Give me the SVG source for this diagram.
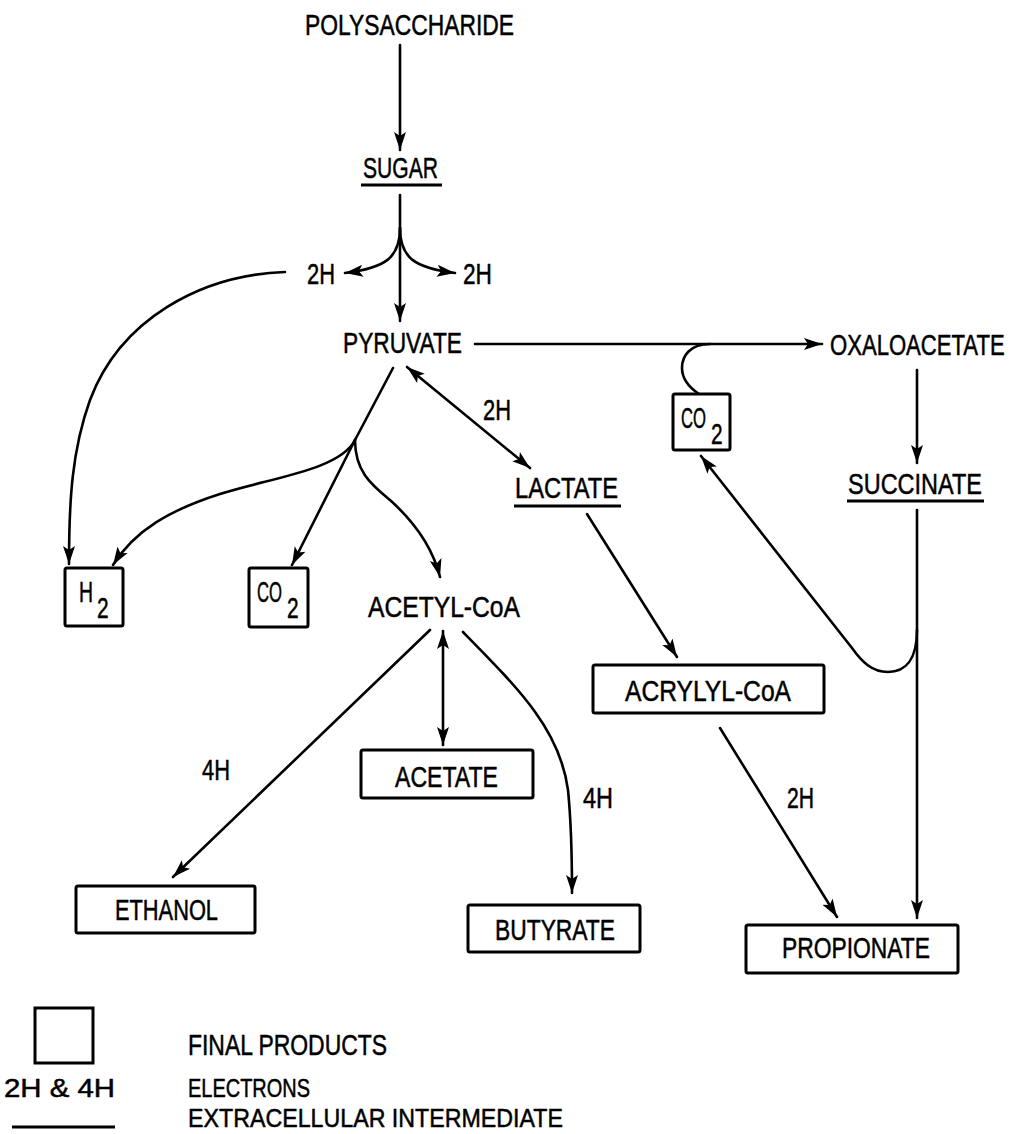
<svg xmlns="http://www.w3.org/2000/svg" width="1014" height="1134" viewBox="0 0 1014 1134">
<defs>
<marker id="ah" markerUnits="userSpaceOnUse" markerWidth="20" markerHeight="14" refX="18" refY="7" orient="auto-start-reverse" viewBox="0 0 20 14">
<path d="M0,1 L18,7 L0,13 L4,7 Z" fill="#000"/>
</marker>
<style>
text{font-family:"Liberation Sans","DejaVu Sans",sans-serif;font-size:29px;fill:#000;stroke:#000;stroke-width:0.5}
text.lg{font-size:26px}
.ln{fill:none;stroke:#000;stroke-width:2.6;stroke-linecap:round}
.box{fill:#fff;stroke:#000;stroke-width:3}
.ul{stroke:#000;stroke-width:3}
</style>
</defs>
<rect width="1014" height="1134" fill="#fff"/>
<g id="connectors">
<path class="ln" d="M400,45 L400,150" marker-end="url(#ah)"/>
<path class="ln" d="M400,195 L400,321" marker-end="url(#ah)"/>
<path class="ln" d="M400,228 C400,258 385,268 345,273" marker-end="url(#ah)"/>
<path class="ln" d="M400,228 C400,258 415,268 455,273" marker-end="url(#ah)"/>
<path class="ln" d="M285,272 C200,275 120,320 90,400 C72,450 69,500 69,564" marker-end="url(#ah)"/>
<path class="ln" d="M393,368 L355,440"/>
<path class="ln" d="M355,440 C340,470 270,478 220,494 C170,510 135,530 113,565" marker-end="url(#ah)"/>
<path class="ln" d="M355,440 L292,565" marker-end="url(#ah)"/>
<path class="ln" d="M355,440 C355,472 372,485 390,500 C410,518 432,545 440,577" marker-end="url(#ah)"/>
<path class="ln" d="M475,344 L822,344" marker-end="url(#ah)"/>
<path class="ln" d="M710,344 C690,344 682,356 682,368 C682,380 690,388 699,394"/>
<path class="ln" d="M917,370 L917,463" marker-end="url(#ah)"/>
<path class="ln" d="M917,510 L917,918" marker-end="url(#ah)"/>
<path class="ln" d="M917,630 C917,660 905,672 888,672 C872,672 862,662 852,648 L701,456" marker-end="url(#ah)"/>
<path class="ln" d="M407,367 L530,468" marker-start="url(#ah)" marker-end="url(#ah)"/>
<path class="ln" d="M587,514 L677,657" marker-end="url(#ah)"/>
<path class="ln" d="M720,728 L837,917" marker-end="url(#ah)"/>
<path class="ln" d="M430,630 L173,877" marker-end="url(#ah)"/>
<path class="ln" d="M443,631 L443,745" marker-start="url(#ah)" marker-end="url(#ah)"/>
<path class="ln" d="M463,632 C520,690 560,730 568,790 C572,830 572,860 572,893" marker-end="url(#ah)"/>
</g>
<g id="labels">
<text x="307" y="284" textLength="28" lengthAdjust="spacingAndGlyphs">2H</text>
<text x="463" y="284" textLength="29" lengthAdjust="spacingAndGlyphs">2H</text>
<text x="483" y="420" textLength="28" lengthAdjust="spacingAndGlyphs">2H</text>
<text x="202" y="780" textLength="28" lengthAdjust="spacingAndGlyphs">4H</text>
<text x="583" y="808" textLength="30" lengthAdjust="spacingAndGlyphs">4H</text>
<text x="787" y="808" textLength="27" lengthAdjust="spacingAndGlyphs">2H</text>
</g>
<g id="polysaccharide"><text x="305" y="35" textLength="209" lengthAdjust="spacingAndGlyphs">POLYSACCHARIDE</text></g>
<g id="sugar"><text x="363" y="178" textLength="75" lengthAdjust="spacingAndGlyphs">SUGAR</text><line class="ul" x1="361" y1="185" x2="442" y2="185"/></g>
<g id="pyruvate"><text x="343" y="353" textLength="119" lengthAdjust="spacingAndGlyphs">PYRUVATE</text></g>
<g id="oxaloacetate"><text transform="translate(830,355) scale(0.762,1)" x="0" y="0">OXALOACETATE</text></g>
<g id="co2-top"><rect class="box" x="673" y="394" width="57" height="56" rx="2"/><text transform="translate(681,428) scale(0.575,1)">CO</text><text transform="translate(711,444) scale(0.72,1)">2</text></g>
<g id="succinate"><text x="848" y="494" textLength="134" lengthAdjust="spacingAndGlyphs">SUCCINATE</text><line class="ul" x1="847" y1="501" x2="984" y2="501"/></g>
<g id="lactate"><text x="515" y="498" textLength="103" lengthAdjust="spacingAndGlyphs">LACTATE</text><line class="ul" x1="514" y1="506" x2="621" y2="506"/></g>
<g id="h2"><rect class="box" x="65" y="568" width="58" height="58" rx="2"/><text transform="translate(79,602) scale(0.67,1)">H</text><text transform="translate(97,618) scale(0.72,1)">2</text></g>
<g id="co2-left"><rect class="box" x="249" y="568" width="59" height="59" rx="2"/><text transform="translate(257,602) scale(0.575,1)">CO</text><text transform="translate(287,618) scale(0.72,1)">2</text></g>
<g id="acetyl-coa"><text x="368" y="617" textLength="152" lengthAdjust="spacingAndGlyphs">ACETYL-CoA</text></g>
<g id="acrylyl-coa"><rect class="box" x="593" y="665" width="231" height="48" rx="2"/><text x="625" y="701" textLength="166" lengthAdjust="spacingAndGlyphs">ACRYLYL-CoA</text></g>
<g id="acetate"><rect class="box" x="361" y="750" width="172" height="48" rx="2"/><text x="395" y="787" textLength="103" lengthAdjust="spacingAndGlyphs">ACETATE</text></g>
<g id="ethanol"><rect class="box" x="76" y="886" width="179" height="47" rx="2"/><text x="115" y="920" textLength="103" lengthAdjust="spacingAndGlyphs">ETHANOL</text></g>
<g id="butyrate"><rect class="box" x="468" y="905" width="172" height="47" rx="2"/><text x="495" y="940" textLength="120" lengthAdjust="spacingAndGlyphs">BUTYRATE</text></g>
<g id="propionate"><rect class="box" x="746" y="925" width="212" height="48" rx="2"/><text x="782" y="958" textLength="148" lengthAdjust="spacingAndGlyphs">PROPIONATE</text></g>
<g id="legend">
<rect class="box" x="35" y="1008" width="58" height="55"/>
<text x="188" y="1055" textLength="199" lengthAdjust="spacingAndGlyphs">FINAL PRODUCTS</text>
<text class="lg" x="4" y="1097" textLength="111" lengthAdjust="spacingAndGlyphs">2H &amp; 4H</text>
<text class="lg" x="188" y="1097" textLength="122" lengthAdjust="spacingAndGlyphs">ELECTRONS</text>
<line class="ul" x1="12" y1="1127" x2="115" y2="1127"/>
<text class="lg" x="188" y="1127" textLength="375" lengthAdjust="spacingAndGlyphs">EXTRACELLULAR INTERMEDIATE</text>
</g>
</svg>
